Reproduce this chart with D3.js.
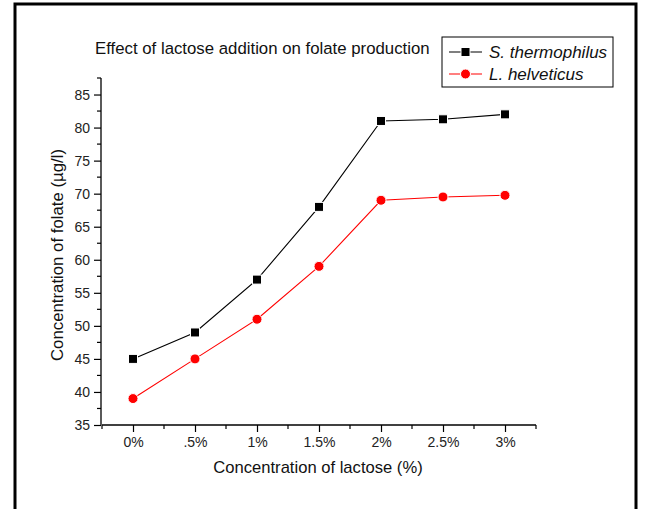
<!DOCTYPE html>
<html>
<head>
<meta charset="utf-8">
<script src="https://cdn.jsdelivr.net/npm/d3@7"></script>
<style>
  html, body { margin: 0; padding: 0; background: #fff; }
  svg { display: block; font-family: "Liberation Sans", Arial, sans-serif; }
</style>
</head>
<body>
<svg id="chart" width="647" height="509"></svg>
<script>
// Lactose levels tested (x categories)
const categories = ["0%", ".5%", "1%", "1.5%", "2%", "2.5%", "3%"];
// Folate concentration (µg/l) per strain
const thermophilus = [45, 49, 57, 68, 81, 81.25, 82];
const helveticus = [39, 45, 51, 59, 69, 69.5, 69.75];
const seriesNames = ["S. thermophilus", "L. helveticus"];
const yTicks = [35, 40, 45, 50, 55, 60, 65, 70, 75, 80, 85];

const svg = d3.select("#chart");

// Frame around the figure (bottom edge runs off the page)
svg.append("rect")
  .attr("x", 15).attr("y", 4)
  .attr("width", 621).attr("height", 560)
  .attr("fill", "none").attr("stroke", "#000").attr("stroke-width", 3);

const x = d3.scaleLinear().domain([-0.5, 6.5]).range([102, 536]);
const y = d3.scaleLinear().domain([35, 87.5]).range([425, 78]);

// Y axis: major ticks every 5, minor every 2.5
const yAxis = svg.append("g").attr("transform", "translate(101,0)");
yAxis.append("line").attr("x1", 0).attr("x2", 0)
  .attr("y1", y(35)).attr("y2", y(87.5)).attr("stroke", "#000").attr("stroke-width", 1.3);
yAxis.selectAll(".minor").data(d3.range(37.5, 88, 5)).enter().append("line")
  .attr("x1", -4).attr("x2", 0).attr("y1", d => y(d)).attr("y2", d => y(d))
  .attr("stroke", "#000").attr("stroke-width", 1.2);
yAxis.call(d3.axisLeft(y).tickValues(yTicks).tickSize(7).tickSizeOuter(0))
  .call(g => g.select(".domain").remove())
  .call(g => g.selectAll(".tick line").attr("stroke-width", 1.2))
  .call(g => g.selectAll(".tick text").attr("x", -11)
    .attr("font-size", 14).attr("fill", "#222").attr("font-family", "Liberation Sans, Arial, sans-serif"));

// X axis: category ticks plus minor ticks midway
const xAxis = svg.append("g").attr("transform", "translate(0,425)");
xAxis.append("line").attr("x1", x(-0.5)).attr("x2", x(6.5))
  .attr("y1", 0).attr("y2", 0).attr("stroke", "#000").attr("stroke-width", 1.3);
xAxis.selectAll(".minor").data(d3.range(-0.5, 7, 1)).enter().append("line")
  .attr("x1", d => x(d)).attr("x2", d => x(d)).attr("y1", 0).attr("y2", 4)
  .attr("stroke", "#000").attr("stroke-width", 1.2);
xAxis.call(d3.axisBottom(x).tickValues(d3.range(categories.length))
    .tickFormat(i => categories[i]).tickSize(7).tickSizeOuter(0))
  .call(g => g.select(".domain").remove())
  .call(g => g.selectAll(".tick line").attr("stroke-width", 1.2))
  .call(g => g.selectAll(".tick text").attr("y", 12)
    .attr("font-size", 14).attr("fill", "#222").attr("font-family", "Liberation Sans, Arial, sans-serif"));

// Titles
svg.append("text").attr("x", 95).attr("y", 54)
  .attr("font-size", 16.8).attr("fill", "#111")
  .text("Effect of lactose addition on folate production");
svg.append("text").attr("x", 318).attr("y", 473).attr("text-anchor", "middle")
  .attr("font-size", 16.6).attr("fill", "#111")
  .text("Concentration of lactose (%)");
svg.append("text").attr("transform", "translate(63,255) rotate(-90)")
  .attr("text-anchor", "middle").attr("font-size", 16.8).attr("fill", "#111")
  .text("Concentration of folate (µg/l)");

// Series lines and markers
const line = d3.line().x((d, i) => x(i)).y(d => y(d));
svg.append("path").datum(thermophilus).attr("d", line)
  .attr("fill", "none").attr("stroke", "#000").attr("stroke-width", 1.1);
svg.append("path").datum(helveticus).attr("d", line)
  .attr("fill", "none").attr("stroke", "#f00").attr("stroke-width", 1.1);

svg.selectAll(".sq").data(thermophilus).enter().append("rect")
  .attr("x", (d, i) => x(i) - 4.5).attr("y", d => y(d) - 4.5)
  .attr("width", 9).attr("height", 9)
  .attr("fill", "#000").attr("stroke", "#fff").attr("stroke-width", 1);
svg.selectAll(".ci").data(helveticus).enter().append("circle")
  .attr("cx", (d, i) => x(i)).attr("cy", d => y(d)).attr("r", 5)
  .attr("fill", "#f00").attr("stroke", "#fff").attr("stroke-width", 1);

// Legend
const lg = svg.append("g");
lg.append("rect").attr("x", 442).attr("y", 37).attr("width", 171).attr("height", 50)
  .attr("fill", "#fff").attr("stroke", "#000").attr("stroke-width", 1);
const rows = [
  { name: seriesNames[0], color: "#000", shape: "square", cy: 52 },
  { name: seriesNames[1], color: "#f00", shape: "circle", cy: 74 }
];
rows.forEach(r => {
  lg.append("line").attr("x1", 449).attr("x2", 482).attr("y1", r.cy).attr("y2", r.cy)
    .attr("stroke", r.color).attr("stroke-width", 1.1);
  if (r.shape === "square") {
    lg.append("rect").attr("x", 461).attr("y", r.cy - 4.5).attr("width", 9).attr("height", 9)
      .attr("fill", r.color).attr("stroke", "#fff").attr("stroke-width", 1);
  } else {
    lg.append("circle").attr("cx", 465.5).attr("cy", r.cy).attr("r", 5)
      .attr("fill", r.color).attr("stroke", "#fff").attr("stroke-width", 1);
  }
  lg.append("text").attr("x", 489).attr("y", r.cy + 6)
    .attr("font-size", 17).attr("font-style", "italic").attr("fill", "#111")
    .text(r.name);
});
</script>
</body>
</html>
